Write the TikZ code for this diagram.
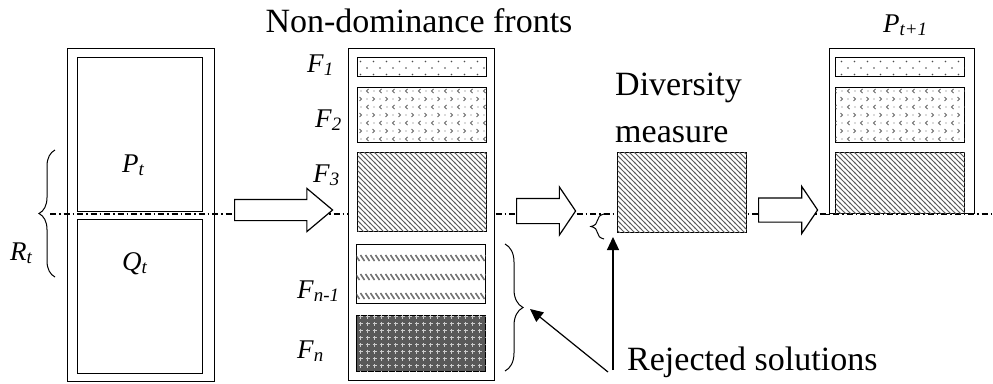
\documentclass[tikz,border=0pt]{standalone}
\usepackage{fontspec}
\setmainfont{Liberation Serif}
\usetikzlibrary{patterns,shapes.arrows,decorations.pathreplacing,arrows.meta}

% fill patterns of the fronts
\pgfdeclarepatternformonly{sparsedots}{\pgfpoint{-1pt}{-1pt}}{\pgfpoint{14pt}{14pt}}{\pgfpoint{13pt}{13pt}}{
  \pgfpathcircle{\pgfpoint{3pt}{3pt}}{0.9pt}
  \pgfpathcircle{\pgfpoint{9.5pt}{9.5pt}}{0.9pt}
  \pgfusepath{fill}}
\pgfdeclarepatternformonly{chevrons}{\pgfpoint{-1pt}{-1pt}}{\pgfpoint{14pt}{17pt}}{\pgfpoint{13pt}{16pt}}{
  \pgfsetlinewidth{1pt}
  \pgfpathmoveto{\pgfpoint{4.5pt}{6pt}}\pgfpathlineto{\pgfpoint{2.5pt}{4pt}}\pgfpathlineto{\pgfpoint{4.5pt}{2pt}}
  \pgfpathmoveto{\pgfpoint{8.5pt}{14pt}}\pgfpathlineto{\pgfpoint{10.5pt}{12pt}}\pgfpathlineto{\pgfpoint{8.5pt}{10pt}}
  \pgfusepath{stroke}
  \pgfpathcircle{\pgfpoint{10pt}{4pt}}{0.7pt}
  \pgfpathcircle{\pgfpoint{3pt}{12pt}}{0.7pt}
  \pgfusepath{fill}}
\pgfdeclarepatternformonly{diaglines}{\pgfpoint{-1pt}{-1pt}}{\pgfpoint{6pt}{6pt}}{\pgfpoint{5pt}{5pt}}{
  \pgfsetlinewidth{0.9pt}
  \pgfpathmoveto{\pgfpoint{-1pt}{6pt}}\pgfpathlineto{\pgfpoint{6pt}{-1pt}}
  \pgfusepath{stroke}}
\pgfdeclarepatternformonly{dashrows}{\pgfpoint{-1pt}{-1pt}}{\pgfpoint{6pt}{20pt}}{\pgfpoint{5pt}{19pt}}{
  \pgfsetlinewidth{1.6pt}
  \pgfpathmoveto{\pgfpoint{0.5pt}{14pt}}\pgfpathlineto{\pgfpoint{4.5pt}{8pt}}
  \pgfusepath{stroke}}
\pgfdeclarepatternformonly{crossdots}{\pgfpoint{-1pt}{-1pt}}{\pgfpoint{8pt}{8pt}}{\pgfpoint{7pt}{7pt}}{
  \pgfsetlinewidth{0.8pt}
  \pgfpathmoveto{\pgfpoint{3.5pt}{1.5pt}}\pgfpathlineto{\pgfpoint{3.5pt}{5.5pt}}
  \pgfpathmoveto{\pgfpoint{1.5pt}{3.5pt}}\pgfpathlineto{\pgfpoint{5.5pt}{3.5pt}}
  \pgfusepath{stroke}}

\newcommand{\flab}[2]{\textit{#1}\textsubscript{\textit{#2}}}

\tikzset{
  frame/.style={rectangle, draw, line width=1.3pt, inner sep=0pt, anchor=north west, fill=white},
  front/.style={frame, minimum width=129pt},
  blockarrow/.style={single arrow, draw, fill=white, line width=1.2pt, inner xsep=0pt, anchor=tail},
  lbl/.style={font=\fontsize{27}{30}\selectfont, inner sep=0pt, anchor=base west},
  txt/.style={font=\fontsize{34}{47}\selectfont, inner sep=0pt},
  pin/.style={-{Triangle[length=13pt,width=12pt]}, line width=1.2pt},
  curly/.style={decorate, decoration={brace, amplitude=#1}, line width=1pt},
  axis/.style={dash pattern=on 6pt off 3pt on 1.5pt off 3pt, line width=1.2pt},
}

\begin{document}
\begin{tikzpicture}[x=1pt, y=-1pt]
\useasboundingbox (0,0) rectangle (993,383);

% R_t = P_t + Q_t
\node[frame, minimum width=147pt, minimum height=333pt] (rbox) at (67,48) {};
\node[frame, minimum width=125pt, minimum height=154pt] (pbox) at (77,57) {};
\node[frame, minimum width=125pt, minimum height=154pt] (qbox) at (77,219) {};
\node[lbl] (plab) at (122,172) {\flab{P}{t}};
\node[lbl] (qlab) at (122,270) {\flab{Q}{t}};
\draw[curly=16pt] (55,277) -- (55,150);
\node[lbl] (rlab) at (10,260) {\flab{R}{t}};

% cut line
\coordinate (axL) at (50,214);
\coordinate (axR) at (993,214);
\draw[axis] (axL) -- (axR);

% sorted fronts
\node[txt, anchor=base] (ndf) at (419,32) {Non-dominance fronts};
\node[frame, minimum width=146pt, minimum height=332pt] (fbox) at (348,48) {};
\node[front, minimum height=19pt, postaction={pattern=sparsedots, pattern color=black!70}] (f1) at (357,57) {};
\node[front, minimum height=55pt, postaction={pattern=chevrons, pattern color=black!60}] (f2) at (357,87) {};
\node[front, minimum height=79pt, postaction={pattern=diaglines, pattern color=black!65}] (f3) at (357,152) {};
\node[front, minimum height=59pt, postaction={pattern=dashrows, pattern color=black!55}] (fm) at (356,244) {};
\node[front, minimum height=56pt, fill=black!65, postaction={pattern=crossdots, pattern color=white!80!black}] (fn) at (356,315) {};
\node[lbl] (f1lab) at (307,72) {\flab{F}{1}};
\node[lbl] (f2lab) at (315,127) {\flab{F}{2}};
\node[lbl] (f3lab) at (313,182) {\flab{F}{3}};
\node[lbl] (fmlab) at (297,298) {\flab{F}{n-1}};
\node[lbl] (fnlab) at (297,358) {\flab{F}{n}};
\draw[curly=18pt] (505,244) -- (505,371);
\coordinate (bigtip) at (530,309);

% block arrows
\node[blockarrow, minimum height=98pt, inner ysep=10pt, single arrow head extend=11pt, single arrow tip angle=80] (arrA) at (234,210) {};
\node[blockarrow, minimum height=59pt, inner ysep=12pt, single arrow head extend=11.5pt, single arrow tip angle=112] (arrB) at (516,211) {};
\node[blockarrow, minimum height=59pt, inner ysep=11.5pt, single arrow head extend=11.5pt, single arrow tip angle=112] (arrC) at (758,210) {};

% crowding distance on F_3
\node[txt, anchor=base west, align=left] (divtxt) at (615,142) {Diversity\\measure};
\node[front, minimum height=80pt, postaction={pattern=diaglines, pattern color=black!65}] (div) at (617,152) {};
\draw[curly=13pt] (604,239) -- (604,214);
\coordinate (smalltip) at (613,237);

% next population
\node[frame, minimum width=145pt, minimum height=165pt] (pnext) at (829,48) {};
\draw[line width=1.3pt] ([xshift=-7pt]pnext.south west) -- (pnext.south west);
\node[front, minimum height=19pt, postaction={pattern=sparsedots, pattern color=black!70}] (g1) at (835,57) {};
\node[front, minimum height=55pt, postaction={pattern=chevrons, pattern color=black!60}] (g2) at (835,87) {};
\node[front, minimum height=61pt, postaction={pattern=diaglines, pattern color=black!65}] (g3) at (835,152) {};
\node[lbl] (pnlab) at (883,32) {\flab{P}{t+1}};

% rejected
\node[txt, anchor=base west] (rej) at (627,370) {Rejected solutions};
\draw[pin] ([xshift=-19pt,yshift=-2pt]rej.base west) -- (bigtip);
\draw[pin] ([xshift=-14pt]rej.base west) -- (smalltip);
\end{tikzpicture}
\end{document}
